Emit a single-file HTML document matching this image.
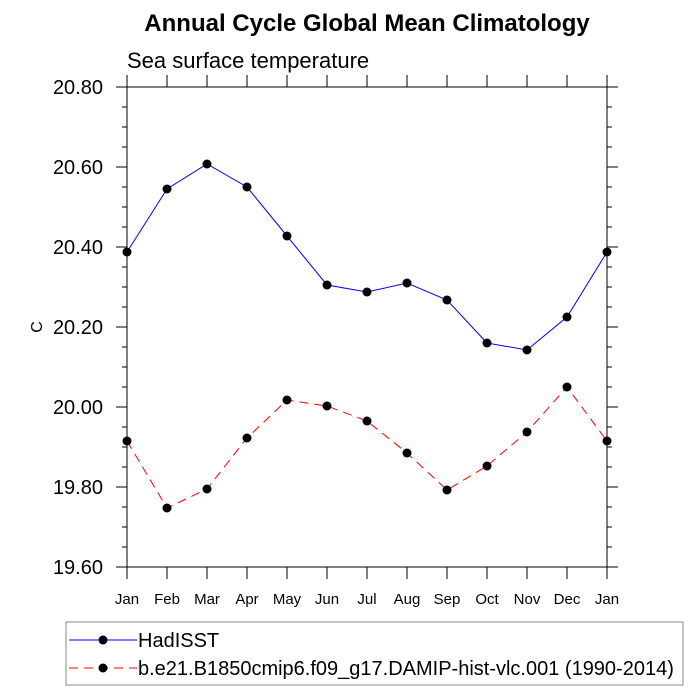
<!DOCTYPE html>
<html><head><meta charset="utf-8"><style>body{margin:0;background:#fff}svg{display:block;font-family:"Liberation Sans",sans-serif}</style></head>
<body>
<svg id="c" width="700" height="700">
<text x="367" y="31" text-anchor="middle" font-size="24" font-weight="bold">Annual Cycle Global Mean Climatology</text>
<text x="127" y="68" font-size="22">Sea surface temperature</text>
<text x="0" y="0" font-size="16" transform="translate(42,327) rotate(-90)" text-anchor="middle">C</text>
<g id="axes"></g><g id="series"></g>
<rect x="66" y="622" width="617" height="63" fill="none" stroke="#888"/>
<g><line x1="69" y1="640" x2="137" y2="640" stroke="#00f"/><circle cx="103" cy="640" r="4.5"/><text x="138" y="647" font-size="20">HadISST</text></g>
<g><line x1="69" y1="668" x2="137" y2="668" stroke="#f00" stroke-dasharray="9,6"/><circle cx="103" cy="668" r="4.5"/><text x="138" y="675" font-size="20">b.e21.B1850cmip6.f09_g17.DAMIP-hist-vlc.001 (1990-2014)</text></g>
</svg>
<script>
const months=["Jan","Feb","Mar","Apr","May","Jun","Jul","Aug","Sep","Oct","Nov","Dec","Jan"];
const hadisst=[20.3875,20.545,20.6075,20.55,20.4275,20.305,20.2875,20.31,20.2675,20.16,20.1425,20.225,20.3875];
const model=[19.915,19.7475,19.795,19.9225,20.0175,20.0025,19.965,19.885,19.7925,19.8525,19.9375,20.05,19.915];
const yTicks=[19.6,19.8,20.0,20.2,20.4,20.6,20.8];
const yMin=19.6,yMax=20.8,L=127,R=607,T=87,B=567;
const NS="http://www.w3.org/2000/svg";
const xs=i=>L+i*(R-L)/(months.length-1);
const ys=v=>B-(v-yMin)/(yMax-yMin)*(B-T);
function mk(t,a,p){const e=document.createElementNS(NS,t);for(const k in a)e.setAttribute(k,a[k]);p.appendChild(e);return e;}
const ax=document.getElementById('axes');
const fr=mk('rect',{x:L,y:T,width:R-L,height:B-T,fill:'none',stroke:'#000','stroke-width':1},ax);


for(let i=0;i<months.length;i++){const x=xs(i);
mk('line',{x1:x,y1:B,x2:x,y2:B+12,stroke:'#000'},ax);
mk('line',{x1:x,y1:T,x2:x,y2:T-12,stroke:'#000'},ax);
const t=mk('text',{x:x,y:B+37,'text-anchor':'middle','font-size':15},ax);t.textContent=months[i];

}
for(let v=yMin;v<=yMax+1e-9;v+=0.05){const y=ys(v);
const major=Math.abs(Math.round(v*5)-v*5)<1e-6;const len=major?11:5;
mk('line',{x1:L,y1:y,x2:L-len,y2:y,stroke:'#000'},ax);
mk('line',{x1:R,y1:y,x2:R+len,y2:y,stroke:'#000'},ax);}
yTicks.forEach(v=>{const t=mk('text',{x:103,y:ys(v)+7,'text-anchor':'end','font-size':20},ax);t.textContent=v.toFixed(2);

});
const sg=document.getElementById('series');
function series(d,col,dash,name){const g=mk('g',{},sg);


mk('polyline',{points:d.map((v,i)=>xs(i)+','+ys(v)).join(' '),fill:'none',stroke:col,'stroke-dasharray':dash},g);
d.forEach((v,i)=>mk('circle',{cx:xs(i),cy:ys(v),r:4.5,fill:'#000'},g));}
series(hadisst,'#00f','none','hadisst-series');
series(model,'#f00','9,6','model-series');
</script>
</body></html>
